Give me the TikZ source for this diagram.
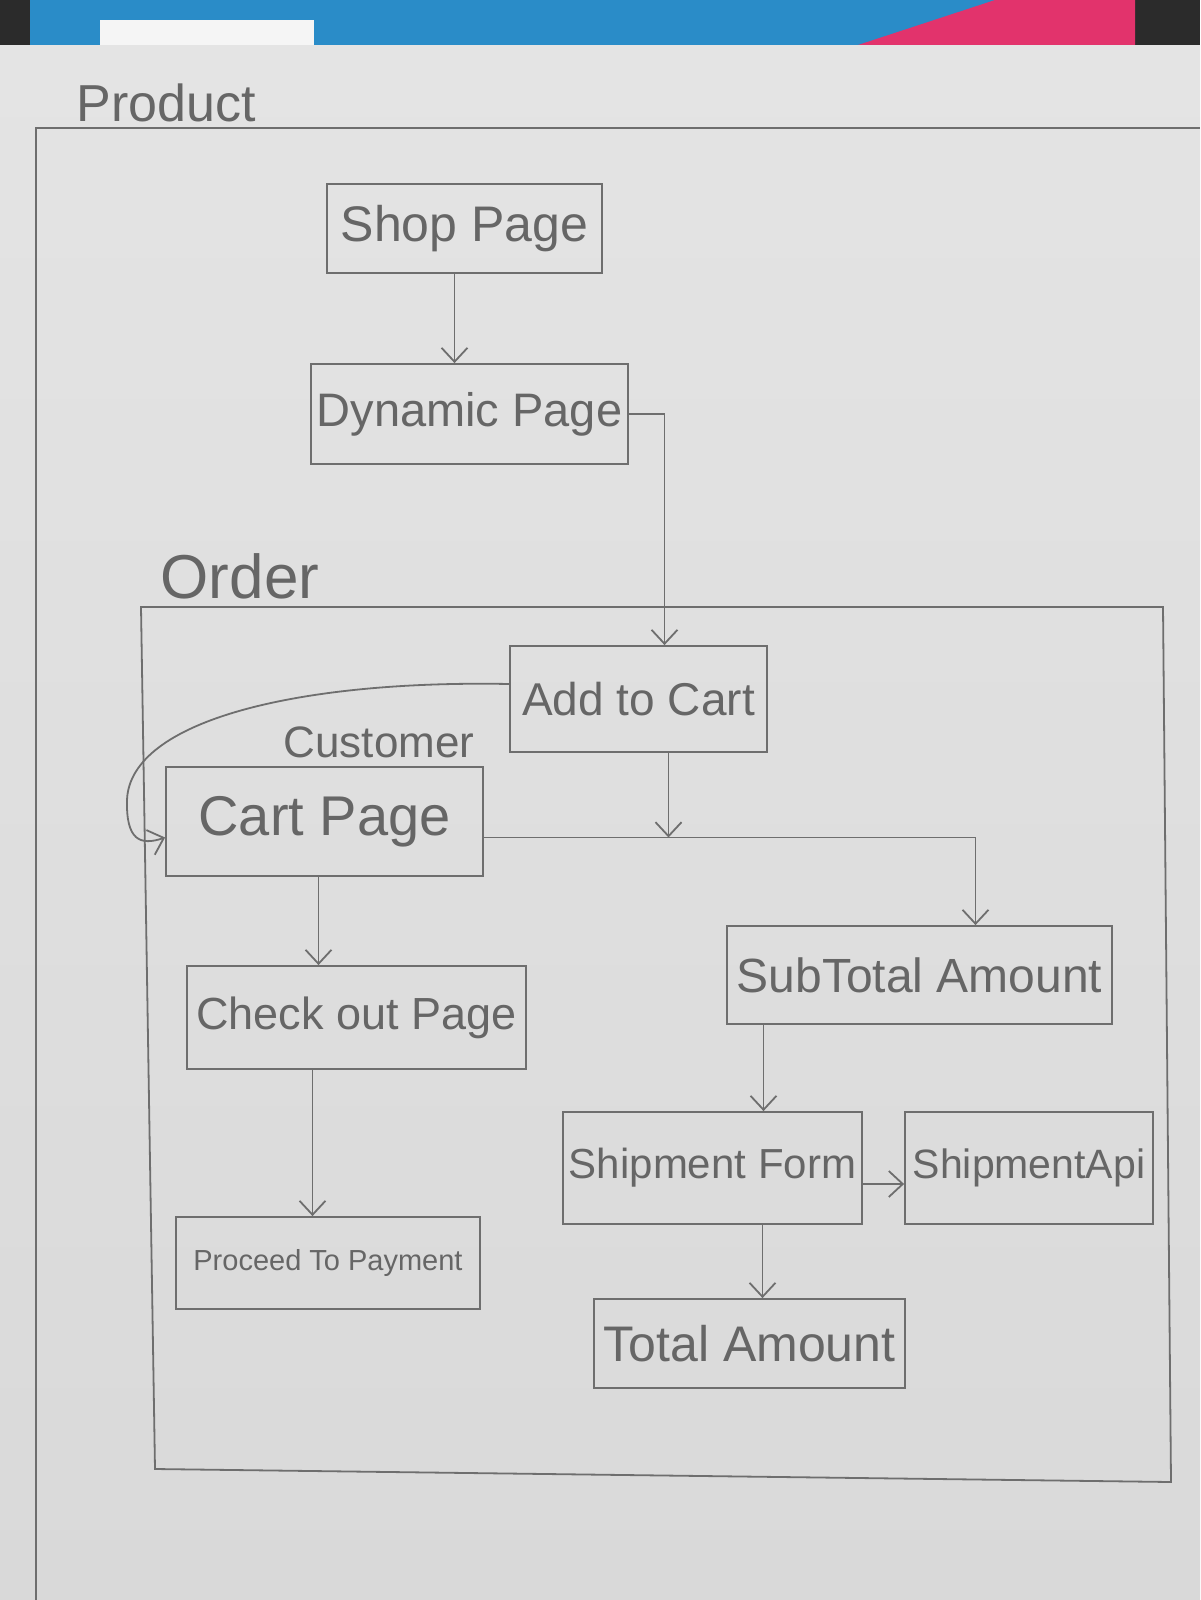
\documentclass[tikz,border=0pt]{standalone}
\usepackage{fontspec}
\setmainfont{Liberation Sans}
\usetikzlibrary{arrows.meta,calc}
\definecolor{pencil}{HTML}{6E6E6E}
\definecolor{ink}{HTML}{666666}
\definecolor{papertop}{HTML}{E4E4E4}
\definecolor{paperbot}{HTML}{D9D9D9}
\definecolor{deskblue}{HTML}{2A8CC8}
\definecolor{deskpink}{HTML}{E2336C}
\definecolor{deskdark}{HTML}{2B2B2B}
\newcommand{\fsz}[1]{\fontsize{#1}{#1}\selectfont}
\begin{document}
\begin{tikzpicture}[x=0.5pt,y=-0.5pt,
  box/.style={draw=pencil,line width=0.9pt,inner sep=0pt,text=ink,align=center},
  lbl/.style={text=ink,inner sep=0pt},
  arr/.style={draw=pencil,line width=0.9pt,-{Straight Barb[length=7pt,width=13pt]}},
  conn/.style={draw=pencil,line width=0.9pt}]
\useasboundingbox (0,0) rectangle (1200,1600);
% desk / photo background strip
\fill[deskdark] (0,0) rectangle (1200,48);
\fill[deskblue] (30,0) rectangle (1135,48);
\fill[deskpink] (995,0) -- (1135,0) -- (1135,48) -- (849,48) -- cycle;
\fill[white!92!gray] (100,20) rectangle (314,48);
% paper
\shade[top color=papertop,bottom color=paperbot] (0,46) rectangle (1200,1600);

% Product frame
\draw[conn] (36,1600) -- (36,128) -- (1200,128);
\node[lbl,font=\fsz{26}] (product) at (166,103) {Product};

% Order frame
\draw[conn] (141,607) -- (1163,607) -- (1171,1482) -- (155,1469) -- cycle;
\node[lbl,font=\fsz{31}] (order) at (240,576) {Order};

% boxes
\node[box,minimum width=137.5pt,minimum height=44.5pt,font=\fsz{25}] (shop) at (464.5,228.5) {Shop Page};
\node[box,minimum width=158.5pt,minimum height=50pt,font=\fsz{23.5}] (dyn) at (469.5,414) {Dynamic Page};
\node[box,minimum width=128.5pt,minimum height=53pt,font=\fsz{23}] (add) at (638.5,699) {Add to Cart};
\node[lbl,font=\fsz{22}] (customer) at (379,742) {Customer};
\node[box,minimum width=158.5pt,minimum height=54.5pt,font=\fsz{28}] (cart) at (324.5,821.5) {Cart Page};
\node[box,minimum width=169.5pt,minimum height=51.5pt,font=\fsz{22.5}] (chk) at (356.5,1017.5) {Check out Page};
\node[box,minimum width=152pt,minimum height=46pt,font=\fsz{14.5}] (pay) at (328,1263) {Proceed To Payment};
\node[box,minimum width=192.5pt,minimum height=49pt,font=\fsz{24}] (sub) at (919.5,975) {SubTotal Amount};
\node[box,minimum width=149.5pt,minimum height=56pt,font=\fsz{21}] (form) at (712.5,1168) {Shipment Form};
\node[box,minimum width=124pt,minimum height=56pt,font=\fsz{20.5}] (api) at (1029,1168) {ShipmentApi};
\node[box,minimum width=155.5pt,minimum height=44.5pt,font=\fsz{25}] (total) at (749.5,1343.5) {Total Amount};

% helper coordinates
\coordinate (shopS) at ([xshift=-5pt]shop.south);
\coordinate (addN) at ([xshift=13pt]add.north);
\coordinate (addS) at ([xshift=15pt]add.south);
\coordinate (hl) at ([yshift=-8pt]cart.east);
\coordinate (subN) at ([xshift=28pt]sub.north);
\coordinate (cartS) at ([xshift=-3pt]cart.south);
\coordinate (chkS) at ([xshift=-22pt]chk.south);
\coordinate (subS) at ([xshift=-78pt]sub.south);
\coordinate (formE) at ([yshift=-8pt]form.east);
\coordinate (formS) at ([xshift=25pt]form.south);

% connectors
\draw[arr] (shopS) -- (shopS |- dyn.north);
\draw[arr] (dyn.east) -| (addN);
\draw[arr] ([yshift=7.5pt]add.west) .. controls (300,680) and (130,720) .. (127,800)
   .. controls (126,840) and (140,846) .. ([yshift=-8pt]cart.west);
\draw[arr] (addS) -- (addS |- hl);
\draw[arr] (hl) -| (subN);
\draw[arr] (cartS) -- (cartS |- chk.north);
\draw[arr] (chkS) -- (chkS |- pay.north);
\draw[arr] (subS) -- (subS |- form.north);
\draw[arr] (formE) -- (formE -| api.west);
\draw[arr] (formS) -- (formS |- total.north);
\end{tikzpicture}
\end{document}
